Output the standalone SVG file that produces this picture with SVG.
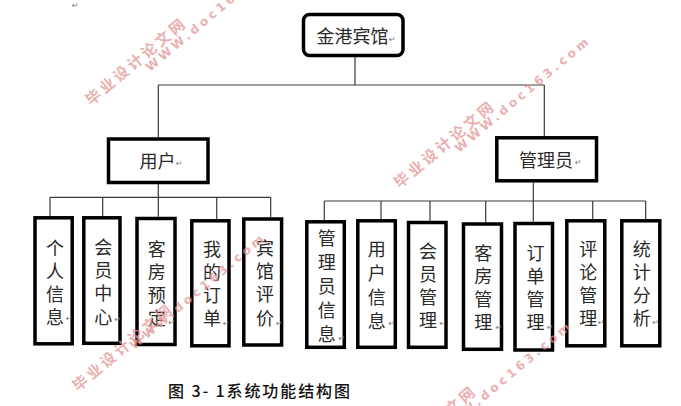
<svg xmlns="http://www.w3.org/2000/svg" width="681" height="406" viewBox="0 0 681 406">
<style>
  .box{fill:#fff;stroke:#000;stroke-width:3.5}
  .lbl{font-family:"Noto Sans CJK SC","Noto Sans",sans-serif;font-size:18px;fill:#2a2a2a;text-anchor:middle}
  .vt{font-family:"Noto Sans CJK SC","Noto Sans",sans-serif;font-size:18px;fill:#2a2a2a;writing-mode:vertical-rl;text-orientation:upright;letter-spacing:5px}
  .ret{font-family:"DejaVu Sans",sans-serif;font-size:8px;fill:#777}
  .ln{stroke:#3a3a3a;stroke-width:1.2;fill:none}
  .cap{font-family:"Noto Sans CJK SC","Noto Sans",sans-serif;font-size:16px;font-weight:500;fill:#111}
  .wmc{font-family:"Noto Sans CJK SC",sans-serif;font-size:15px;font-weight:bold;fill:#e39393;opacity:0.72}
  .wme{font-family:"DejaVu Sans",sans-serif;font-size:12px;font-weight:bold;fill:#e39393;opacity:0.72}
</style>
<rect width="681" height="406" fill="#fff"/>
<text class="ret" x="72" y="8">↵</text>

<g id="connectors">
  <path class="ln" d="M355 57V85M158.3 85H544.3M158.3 85V137M544.3 85V136"/>
  <path class="ln" d="M158.3 184V197.3M50 197.3H270.7M50 197.3V216M102.7 197.3V216M158.3 197.3V216.7M216.7 197.3V219M270.7 197.3V217.3"/>
  <path class="ln" d="M533.3 182.5V221.7M324.3 201H645.7M324.3 201V220M381 201V219M430 201V220.7M485.7 201V222.3M592.7 201V219M645.7 201V219"/>
</g>

<g id="root">
  <rect class="box" x="303.5" y="14.5" width="99.5" height="41" rx="6"/>
  <text class="lbl" x="352.5" y="43.2">金港宾馆</text>
  <text class="ret" x="389" y="42">↵</text>
</g>
<g id="user">
  <rect class="box" x="108.5" y="139" width="99.5" height="43.5"/>
  <text class="lbl" x="157.5" y="168">用户</text>
  <text class="ret" x="176" y="166">↵</text>
</g>
<g id="admin">
  <rect class="box" x="496.8" y="137.8" width="99.7" height="43"/>
  <text class="lbl" x="546" y="166.5">管理员</text>
  <text class="ret" x="575" y="165">↵</text>
</g>

<g id="u1">
  <rect class="box" x="35" y="217.8" width="37.2" height="126"/>
  <text class="vt" x="55" y="239">个人信息</text>
  <text class="ret" x="66" y="321">↵</text>
</g>
<g id="u2">
  <rect class="box" x="83.8" y="217.8" width="36.2" height="125.5"/>
  <text class="vt" x="103.3" y="238" style="letter-spacing:5.3px">会员中心</text>
  <text class="ret" x="114.5" y="322">↵</text>
</g>
<g id="u3">
  <rect class="box" x="137" y="218.5" width="38" height="126"/>
  <text class="vt" x="156.7" y="240">客房预定</text>
  <text class="ret" x="168.5" y="324.5">↵</text>
</g>
<g id="u4">
  <rect class="box" x="191.8" y="220.8" width="37.2" height="125"/>
  <text class="vt" x="212" y="240">我的订单</text>
  <text class="ret" x="223" y="326">↵</text>
</g>
<g id="u5">
  <rect class="box" x="243.8" y="219" width="37.8" height="126"/>
  <text class="vt" x="265" y="239" style="letter-spacing:5.3px">宾馆评价</text>
  <text class="ret" x="276" y="325.5">↵</text>
</g>

<g id="a1">
  <rect class="box" x="306.8" y="221.8" width="37.5" height="125.5"/>
  <text class="vt" x="326.7" y="229.5" style="letter-spacing:6px">管理员信息</text>
  <text class="ret" x="338.5" y="340.5">↵</text>
</g>
<g id="a2">
  <rect class="box" x="357.8" y="220.8" width="37.5" height="126.5"/>
  <text class="vt" x="376.7" y="240.5" style="letter-spacing:5.8px">用户信息</text>
  <text class="ret" x="388.5" y="325.5">↵</text>
</g>
<g id="a3">
  <rect class="box" x="408.5" y="222.5" width="37.5" height="124.8"/>
  <text class="vt" x="428" y="242" style="letter-spacing:5.2px">会员管理</text>
  <text class="ret" x="439.5" y="326">↵</text>
</g>
<g id="a4">
  <rect class="box" x="463.5" y="224" width="38" height="125.3"/>
  <text class="vt" x="483.3" y="244">客房管理</text>
  <text class="ret" x="495.8" y="329.5">↵</text>
</g>
<g id="a5">
  <rect class="box" x="515" y="223.5" width="37.5" height="126.5"/>
  <text class="vt" x="535.5" y="244">订单管理</text>
  <text class="ret" x="547" y="329.5">↵</text>
</g>
<g id="a6">
  <rect class="box" x="566.8" y="220.8" width="38" height="125"/>
  <text class="vt" x="588.3" y="240">评论管理</text>
  <text class="ret" x="598" y="324.5">↵</text>
</g>
<g id="a7">
  <rect class="box" x="621.8" y="220.8" width="38" height="125"/>
  <text class="vt" x="641.7" y="240">统计分析</text>
  <text class="ret" x="652.5" y="324.5">↵</text>
</g>

<text class="cap" x="168" y="397" textLength="182" lengthAdjust="spacing">图 3- 1系统功能结构图</text>

<g id="watermark">
  <text class="wmc" transform="translate(91 106) rotate(-40)" textLength="124" lengthAdjust="spacing">毕业设计论文网</text>
  <text class="wme" transform="translate(150 72) rotate(-40)" textLength="170" lengthAdjust="spacing">WWW.doc163.com</text>
  <text class="wmc" transform="translate(399.5 189) rotate(-40)" textLength="124" lengthAdjust="spacing">毕业设计论文网</text>
  <text class="wme" transform="translate(459 153) rotate(-40)" textLength="170" lengthAdjust="spacing">WWW.doc163.com</text>
  <text class="wmc" transform="translate(78 392) rotate(-40)" textLength="124" lengthAdjust="spacing">毕业设计论文网</text>
  <text class="wme" transform="translate(134 350) rotate(-40)" textLength="170" lengthAdjust="spacing">WWW.doc163.com</text>
  <text class="wmc" transform="translate(381 474) rotate(-40)" textLength="124" lengthAdjust="spacing">毕业设计论文网</text>
  <text class="wme" transform="translate(440.5 438) rotate(-40)" textLength="170" lengthAdjust="spacing">WWW.doc163.com</text>
</g>
</svg>
